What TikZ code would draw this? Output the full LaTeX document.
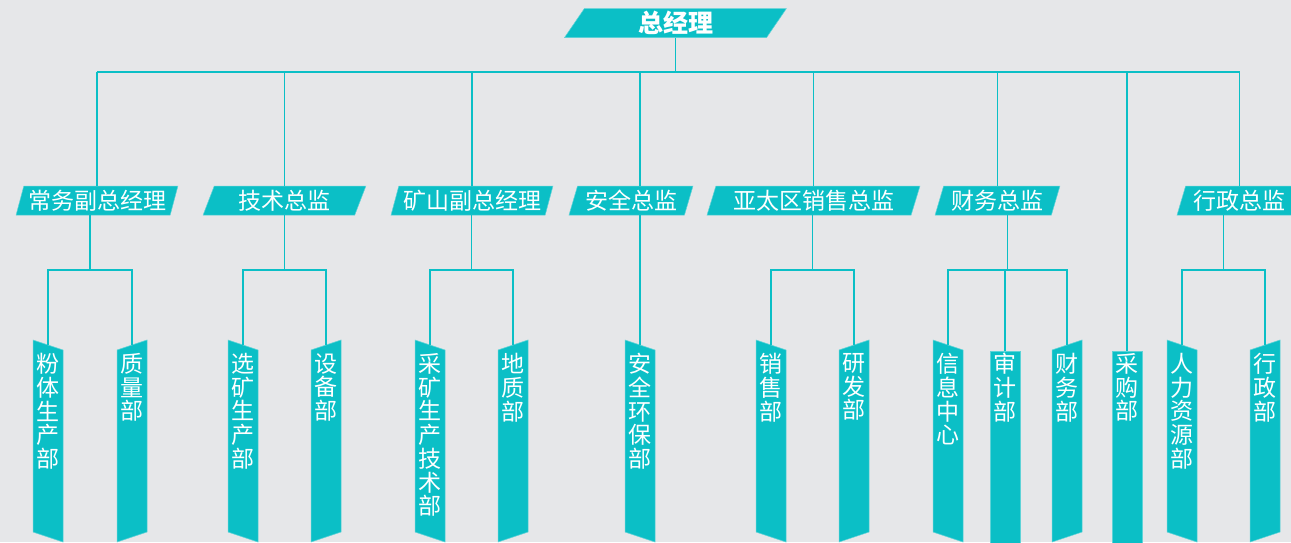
\documentclass[tikz,border=0pt]{standalone}
\usepackage{fontspec}
\newfontfamily\cjk{Noto Sans CJK SC}
\usetikzlibrary{shapes.geometric, calc}

\definecolor{teal0}{HTML}{0BBFC6}
\definecolor{rim}{HTML}{5ED3D7}
\definecolor{paper}{HTML}{E6E7E9}

\tikzset{
    link/.style = {draw=teal0, line width=1.5pt},
    lead/.style = {trapezium, trapezium left angle=71, trapezium right angle=109,
        trapezium stretches=true, fill=teal0, draw=rim, line width=0.5pt,
        text=white, inner sep=0pt, minimum height=29pt,
        font=\cjk\fontsize{23}{24}\selectfont},
    flagfill/.style = {fill=teal0, draw=rim, line width=0.5pt},
    flagtext/.style = {anchor=north, inner sep=0pt, text=white, align=center,
        font=\cjk\fontsize{23}{23.75}\selectfont},
}

% name, x, top y left, top y right, text
\newcommand\flag[5]{%
    \filldraw[flagfill] (#2-15,#3) -- (#2+15,#4) -- (#2+15,#4+192) -- (#2-15,#3+192) -- cycle;
    \coordinate (#1) at (#2,{(#3+#4)/2});
    \node[flagtext] (#1-txt) at (#2,353) {#5};
}

\begin{document}
\begin{tikzpicture}[x=1pt, y=-1pt]
    \useasboundingbox (0,0) rectangle (1291,542);
    \fill[paper] (0,0) rectangle (1291,542);
    \coordinate (bar) at (0,72);
    \coordinate (fork) at (0,270);

    % top
    \node[lead, minimum width=223pt, font=\cjk\bfseries\fontsize{25}{26}\selectfont]
        (gm) at (675.5,23) {总经理};

    % directors
    \node[lead, minimum width=162pt] (vp1)   at (97,200.5)    {常务副总经理};
    \node[lead, minimum width=163pt] (cto)   at (284.5,200.5) {技术总监};
    \node[lead, minimum width=162pt] (vp2)   at (472,200.5)   {矿山副总经理};
    \node[lead, minimum width=124pt] (cso)   at (631,200.5)   {安全总监};
    \node[lead, minimum width=213pt] (sales) at (813.5,200.5) {亚太区销售总监};
    \node[lead, minimum width=125pt] (cfo)   at (997.5,200.5) {财务总监};
    \node[lead, minimum width=125pt] (admin) at (1239.5,200.5) {行政总监};

    % departments
    \flag{powder}{48}{340}{350}{粉\\体\\生\\产\\部}
    \flag{quality}{132}{350}{340}{质\\量\\部}
    \flag{dressing}{243}{340}{350}{选\\矿\\生\\产\\部}
    \flag{equip}{326}{350}{340}{设\\备\\部}
    \flag{mining}{430}{340}{350}{采\\矿\\生\\产\\技\\术\\部}
    \flag{geology}{513}{350}{340}{地\\质\\部}
    \flag{safety}{640}{340}{350}{安\\全\\环\\保\\部}
    \flag{sell}{771}{340}{350}{销\\售\\部}
    \flag{rnd}{854}{350}{340}{研\\发\\部}
    \flag{info}{948}{340}{350}{信\\息\\中\\心}
    \flag{audit}{1005}{351}{351}{审\\计\\部}
    \flag{finance}{1067}{350}{340}{财\\务\\部}
    \flag{buying}{1127}{351}{351}{采\\购\\部}
    \flag{hr}{1182}{340}{350}{人\\力\\资\\源\\部}
    \flag{office}{1265}{350}{340}{行\\政\\部}

    % upper links
    \draw[link] (gm.south) -- (gm.south |- bar);
    \draw[link] (vp1.north |- bar) -- (admin.north |- bar);
    \foreach \n in {vp1, cto, vp2, sales, cfo, admin}
        \draw[link] (\n.north) -- (\n.north |- bar);
    \draw[link] (safety |- cso.north) -- (safety |- bar);
    \draw[link] (buying) -- (buying |- bar);

    % lower links
    \foreach \n/\a/\b in {vp1/powder/quality, cto/dressing/equip, vp2/mining/geology,
                          sales/sell/rnd, cfo/info/finance, admin/hr/office} {
        \draw[link] (\a) -- (\a |- fork) -- (\b |- fork) -- (\b);
        \coordinate (mid) at ($(\a)!.5!(\b)$);
        \draw[link] (mid |- \n.south) -- (mid |- fork);
    }
    \draw[link] (audit) -- (audit |- fork);
    \draw[link] (safety |- cso.south) -- (safety);
\end{tikzpicture}
\end{document}
